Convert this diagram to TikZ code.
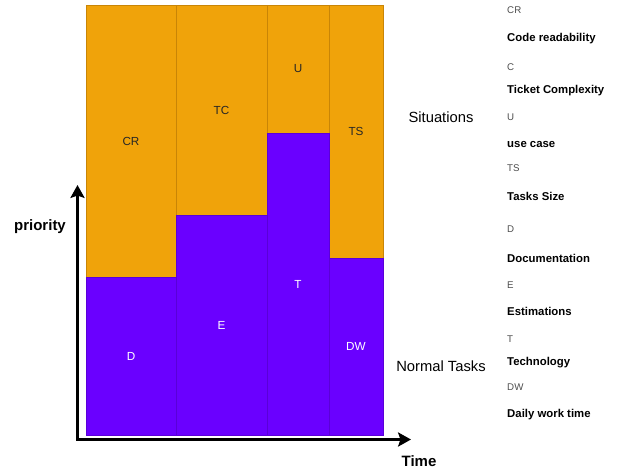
\documentclass[tikz,border=0pt]{standalone}
\usepackage{fontspec}
\setmainfont{Liberation Sans}
\usetikzlibrary{arrows.meta}
\definecolor{sitorange}{HTML}{F0A30A}
\definecolor{sitline}{HTML}{C98506}
\definecolor{taskpurple}{HTML}{6A00FF}
\definecolor{taskline}{HTML}{5A00D8}
\tikzset{
  sitbox/.style={fill=sitorange, draw=sitline, line width=0.7pt},
  taskbox/.style={fill=taskpurple, draw=taskline, line width=0.7pt},
  boxlbl/.style={font=\fontsize{10}{12}\selectfont, text=black!85},
  tasklbl/.style={font=\fontsize{10}{12}\selectfont, text=white},
  axis/.style={{Stealth[length=11pt,width=12pt,inset=2pt]}-{Stealth[length=11pt,width=12pt,inset=2pt]}, line width=3pt, line join=miter},
  axislbl/.style={font=\bfseries\fontsize{12.8}{14}\selectfont},
  grouplbl/.style={font=\fontsize{12.6}{14}\selectfont},
  keyabbr/.style={font=\fontsize{8.3}{10}\selectfont, text=black!70, anchor=west, inner sep=0pt},
  keyname/.style={font=\bfseries\fontsize{9.7}{11}\selectfont, anchor=west, inner sep=0pt}
}
\begin{document}
\begin{tikzpicture}[x=0.03cm, y=-0.03cm]
\useasboundingbox (0,0) rectangle (640,471);
% situations
\draw[sitbox] (86,5) rectangle node[boxlbl] (cr) {CR} (176,277);
\draw[sitbox] (176,5) rectangle node[boxlbl] (tc) {TC} (267,215);
\draw[sitbox] (267,5) rectangle node[boxlbl] (u) {U} (329,133);
\draw[sitbox] (329,5) rectangle node[boxlbl] (ts) {TS} (383,258);
% normal tasks
\draw[taskbox] (86,277) rectangle node[tasklbl] (d) {D} (176,435);
\draw[taskbox] (176,215) rectangle node[tasklbl] (e) {E} (267,435);
\draw[taskbox] (267,133) rectangle node[tasklbl] (t) {T} (329,435);
\draw[taskbox] (329,258) rectangle node[tasklbl] (dw) {DW} (383,435);
% axes
\coordinate (ytip) at (77.5,185);
\coordinate (orig) at (77.5,439.5);
\coordinate (xtip) at (411,439.5);
\draw[axis] (ytip) -- (orig) -- (xtip);
\node[axislbl] (prio) at (40,227) {priority};
\node[axislbl] (time) at (419,461) {Time};
% groups
\node[grouplbl] (sit) at (441,117) {Situations};
\node[grouplbl] (norm) at (441,366) {Normal Tasks};
% key
\foreach \ab/\nm/\ya/\yn [count=\i] in {CR/Code readability/10/39, C/Ticket Complexity/67/91, U/use case/117/144, TS/Tasks Size/168/196, D/Documentation/229/258, E/Estimations/285/311, T/Technology/339/363, DW/Daily work time/387/415} {
  \node[keyabbr] (ab\i) at (507,\ya) {\ab};
  \node[keyname] (nm\i) at (507,\yn) {\nm};
}
\end{tikzpicture}
\end{document}
